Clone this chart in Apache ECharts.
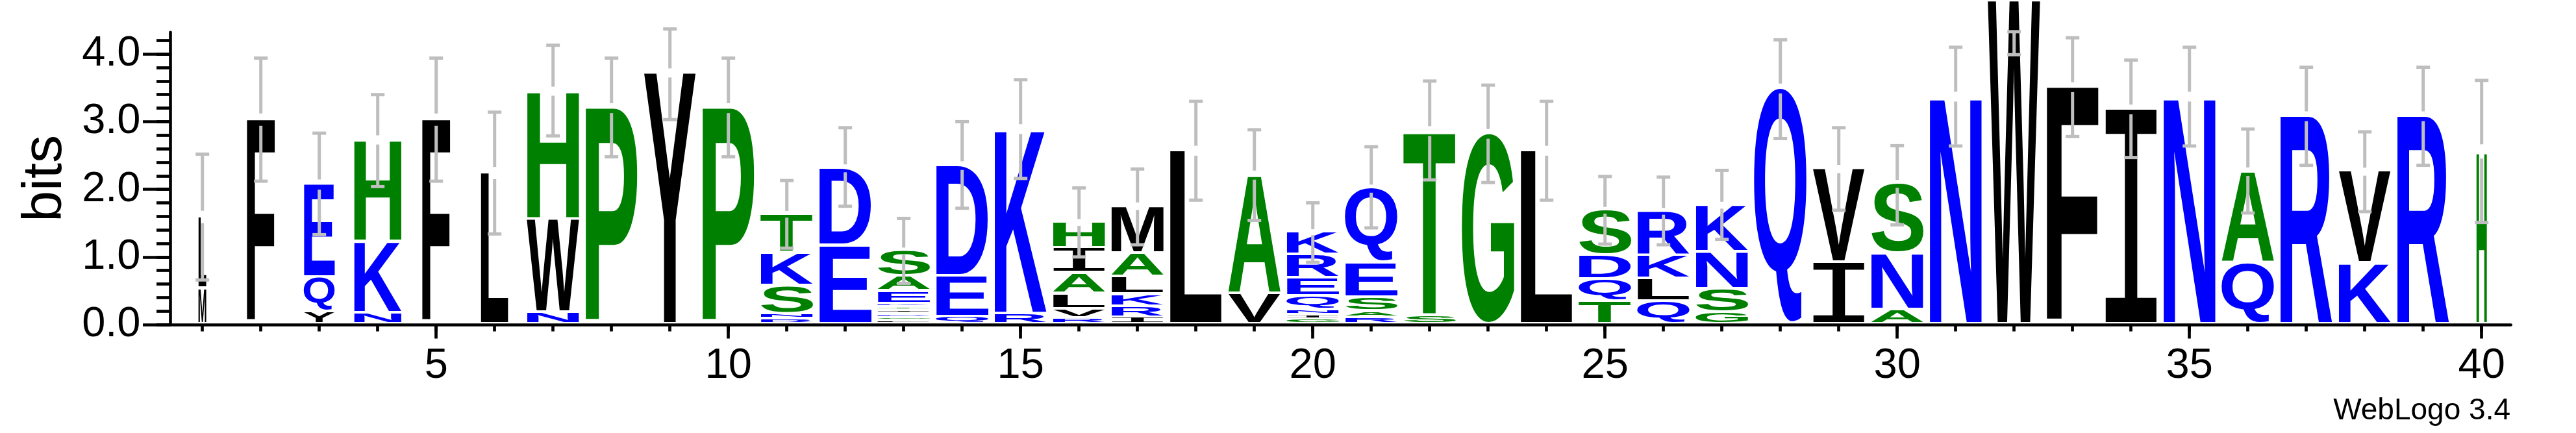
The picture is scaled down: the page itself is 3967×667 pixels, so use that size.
<!DOCTYPE html>
<html>
<head>
<meta charset="utf-8">
<script src="https://cdn.jsdelivr.net/npm/echarts@6/dist/echarts.min.js"></script>
<style>
html,body{margin:0;padding:0;background:#ffffff;}
#chart{width:3967px;height:667px;}
</style>
</head>
<body>
<div id="chart"></div>
<script>
const positions = [1,2,3,4,5,6,7,8,9,10,11,12,13,14,15,16,17,18,19,20,
                   21,22,23,24,25,26,27,28,29,30,31,32,33,34,35,36,37,38,39,40];

// letters of each stack, bottom -> top
const stackLetters = ['ML','F','YQE','NKH','F','L','NWH','P','Y','P',
  'RNSKT','ED','LGDITKEAS','QED','RK','RVLAIH','IRKLAM','L','VA','GINQERK',
  'RASEQ','ST','G','L','TQDS','QLKR','GSNK','Q','IV','ANS',
  'N','W','F','I','N','QA','R','KV','R','H'];

// letter heights in bits, bottom -> top
const stackBits = [
  [0.53,1.06],[3.03],[0.18,0.51,1.38],[0.16,1.06,1.51],[3.03],
  [2.24],[0.17,1.38,1.90],[3.20],[3.72],[3.20],
  [0.08,0.07,0.42,0.49,0.57],[1.16,1.15],[0.05,0.05,0.05,0.05,0.05,0.05,0.19,0.22,0.38],
  [0.11,0.60,1.64],[0.15,2.74],
  [0.09,0.135,0.225,0.305,0.37,0.385],[0.10,0.16,0.18,0.26,0.35,0.70],[2.57],[0.45,1.76],
  [0.07,0.065,0.077,0.196,0.273,0.347,0.338],
  [0.10,0.09,0.20,0.51,1.11],[0.13,2.73],[2.82],[2.57],[0.34,0.32,0.36,0.67],
  [0.34,0.33,0.35,0.655],[0.17,0.35,0.545,0.70],[3.49],[0.91,1.39],[0.21,0.83,1.04],
  [3.37],[4.79],[3.51],[3.18],[3.37],[0.90,1.36],[3.08],[0.90,1.36],[3.08],[2.56]
];

// visible stack width (fraction of a full column)
const columnWidth = [0.15,0.54,0.59,0.91,0.54,0.53,1,1,1,1,
                     1,1,1,1,1,1,1,1,1,1,
                     1,1,1,1,1,1,1,1,1,1,
                     1,1,1,1,1,1,1,1,1,0.2];

// error bars: centre and half-length in bits
const errorCenter = [1.59,3.03,2.08,2.72,3.03,2.24,3.46,3.21,3.70,3.21,
                     1.63,2.33,1.09,2.36,2.89,1.51,1.74,2.57,2.21,1.36,
                     2.03,2.87,2.82,2.57,1.69,1.68,1.77,3.48,2.30,2.06,
                     3.37,4.16,3.51,3.19,3.37,2.27,3.08,2.26,3.08,2.56];
const errorHalf = [0.93,0.91,0.75,0.68,0.91,0.90,0.67,0.73,0.67,0.73,
                   0.50,0.58,0.48,0.64,0.73,0.51,0.56,0.73,0.67,0.44,
                   0.60,0.73,0.72,0.73,0.50,0.50,0.51,0.73,0.61,0.585,
                   0.73,0.17,0.73,0.72,0.73,0.62,0.725,0.59,0.725,1.05];

const yTickLabels = ['0.0','1.0','2.0','3.0','4.0'];
const yAxisTitle = 'bits';
const footerText = 'WebLogo 3.4';

// ---------------- styling ----------------
const GREEN = '#008000', BLUE = '#0000ff', BLACK = '#000000', ERR = '#bebebe';
const colorGroups = [[GREEN,'HPTSAGC'],[BLUE,'EQKNDR'],[BLACK,'FLWYMIV']];
function colorOf(ch){ for (const [c,s] of colorGroups) if (s.indexOf(ch) >= 0) return c; return BLACK; }
const FONT_SANS = 'bold 100px "Liberation Sans", Arial, sans-serif';
const FONT_I = '100px "DejaVu Sans Mono", monospace';
function fontFor(ch){ return ch === 'I' ? FONT_I : FONT_SANS; }
const mctx = document.createElement('canvas').getContext('2d');
const metricCache = {};
function metrics(ch){
  if (!metricCache[ch]) {
    mctx.font = fontFor(ch); mctx.textBaseline = 'middle'; mctx.textAlign = 'left';
    const m = mctx.measureText(ch);
    metricCache[ch] = {L:m.actualBoundingBoxLeft, R:m.actualBoundingBoxRight,
                       A:m.actualBoundingBoxAscent, D:m.actualBoundingBoxDescent};
  }
  return metricCache[ch];
}
const GAP = 4;

// ---------------- build series data ----------------
const glyphData = [], glyphChars = [], stackTop = [];
positions.forEach((p, i) => {
  let cum = 0;
  stackLetters[i].split('').forEach((ch, j) => {
    const h = stackBits[i][j];
    glyphData.push([p, cum, cum + h, columnWidth[i]]);
    glyphChars.push(ch);
    cum += h;
  });
  stackTop.push(cum);
});
const errorData = positions.map((p, i) => [p, errorCenter[i], errorHalf[i], stackTop[i]]);

function renderGlyph(params, api){
  const p = api.value(0), v0 = api.value(1), v1 = api.value(2), wf = api.value(3);
  const top = api.coord([p, v1]), bot = api.coord([p, v0]);
  const unit = api.size([1, 0])[0];
  const halfW = unit * 0.45 * wf;
  const x0 = top[0] - halfW, x1 = top[0] + halfW;
  const y0 = top[1], y1 = Math.max(bot[1] - GAP, y0 + 1);
  const ch = glyphChars[params.dataIndex];
  const m = metrics(ch);
  const sx = (x1 - x0) / (m.L + m.R), sy = (y1 - y0) / (m.A + m.D);
  return {
    type: 'text', x: x0 + sx * m.L, y: y0 + sy * m.A, scaleX: sx, scaleY: sy, silent: true,
    style: { text: ch, font: fontFor(ch), fill: colorOf(ch),
             textAlign: 'left', textVerticalAlign: 'middle', align: 'left', verticalAlign: 'middle' }
  };
}
function seg(x1, y1, x2, y2){
  return { type: 'line', silent: true, shape: {x1, y1, x2, y2}, style: {stroke: ERR, lineWidth: 5} };
}
function renderError(params, api){
  const p = api.value(0), c = api.value(1), h = api.value(2), st = api.value(3);
  const top = api.coord([p, c + h]), bot = api.coord([p, c - h]);
  const x = top[0];
  const gapHalf = (bot[1] - top[1]) * 0.05;
  const sy = api.coord([p, st])[1];
  const ch = [];
  if (sy - gapHalf > top[1] && sy + gapHalf < bot[1]) {
    ch.push(seg(x, top[1], x, sy - gapHalf), seg(x, sy + gapHalf, x, bot[1]));
  } else {
    ch.push(seg(x, top[1], x, bot[1]));
  }
  ch.push(seg(x - 10.5, top[1], x + 10.5, top[1]), seg(x - 10.5, bot[1], x + 10.5, bot[1]));
  return { type: 'group', children: ch };
}

// ---------------- chart ----------------
const PX_PER_BIT = 104.2, ZERO_Y = 500, BOTTOM = 667 - ZERO_Y;
const POS1_X = 311.7, STEP = 90, LEFT = 262.5, RIGHT_X = 3866.7;
const labelFont = '"Liberation Sans", Arial, sans-serif';
const chart = echarts.init(document.getElementById('chart'), null, {renderer: 'canvas'});
const hidden = {show: false};
chart.setOption({
  animation: false,
  backgroundColor: '#ffffff',
  grid: [
    {left: LEFT, right: 3967 - RIGHT_X, top: ZERO_Y - 4.32 * PX_PER_BIT, bottom: BOTTOM, outerBoundsMode: 'none', containLabel: false},
    {left: POS1_X, right: 3967 - (POS1_X + 39 * STEP), top: ZERO_Y - 4.2 * PX_PER_BIT, bottom: BOTTOM, outerBoundsMode: 'none', containLabel: false},
    {left: POS1_X + 4 * STEP, right: 3967 - (POS1_X + 39 * STEP), top: ZERO_Y - 4 * PX_PER_BIT, bottom: BOTTOM, outerBoundsMode: 'none', containLabel: false}
  ],
  xAxis: [
    {gridIndex: 0, type: 'value', min: 1 - (POS1_X - LEFT) / STEP, max: 1 + (RIGHT_X - POS1_X) / STEP,
     axisLine: {show: true, onZero: false, lineStyle: {color: '#000', width: 4.6}},
     axisTick: hidden, axisLabel: hidden, splitLine: hidden},
    {gridIndex: 1, type: 'value', min: 1, max: 40, interval: 1,
     axisLine: {show: false, onZero: false}, axisTick: {show: true, length: 10.5, lineStyle: {color: '#000', width: 4.7}},
     axisLabel: hidden, splitLine: hidden},
    {gridIndex: 2, type: 'value', min: 5, max: 40, interval: 5,
     axisLine: {show: false, onZero: false}, axisTick: {show: true, length: 21.5, lineStyle: {color: '#000', width: 4.7}},
     axisLabel: {show: true, margin: 32, fontSize: 65, fontFamily: labelFont, color: '#000'},
     splitLine: hidden}
  ],
  yAxis: [
    {gridIndex: 0, type: 'value', min: 0, max: 4.32,
     axisLine: {show: true, onZero: false, lineStyle: {color: '#000', width: 4.6}},
     axisTick: hidden, axisLabel: hidden, splitLine: hidden,
     name: yAxisTitle, nameLocation: 'middle', nameRotate: 90, nameGap: 149, nameMoveOverlap: false,
     nameTextStyle: {fontSize: 86, fontFamily: labelFont, color: '#000'}},
    {gridIndex: 1, type: 'value', min: 0, max: 4.2, interval: 0.2, offset: POS1_X - LEFT,
     axisLine: {show: false, onZero: false}, axisTick: {show: true, length: 21.5, lineStyle: {color: '#000', width: 4.7}},
     axisLabel: hidden, splitLine: hidden},
    {gridIndex: 2, type: 'value', min: 0, max: 4, interval: 1, offset: POS1_X + 4 * STEP - LEFT,
     axisLine: {show: false, onZero: false}, axisTick: {show: true, length: 42.5, lineStyle: {color: '#000', width: 4.7}},
     axisLabel: {show: true, margin: 46, fontSize: 65, fontFamily: labelFont, color: '#000',
                 formatter: (v) => yTickLabels[Math.round(v)]},
     splitLine: hidden}
  ],
  graphic: [
    {type: 'text', x: 3866, y: 633.4, silent: true,
     style: {text: footerText, font: '46px "Liberation Sans", Arial, sans-serif', fill: '#000',
             textAlign: 'right', textVerticalAlign: 'middle', align: 'right', verticalAlign: 'middle'}}
  ],
  series: [
    {type: 'custom', xAxisIndex: 0, yAxisIndex: 0, data: glyphData, renderItem: renderGlyph, clip: false, z: 2, silent: true},
    {type: 'custom', xAxisIndex: 0, yAxisIndex: 0, data: errorData, renderItem: renderError, clip: false, z: 3, silent: true}
  ]
});
</script>
</body>
</html>
